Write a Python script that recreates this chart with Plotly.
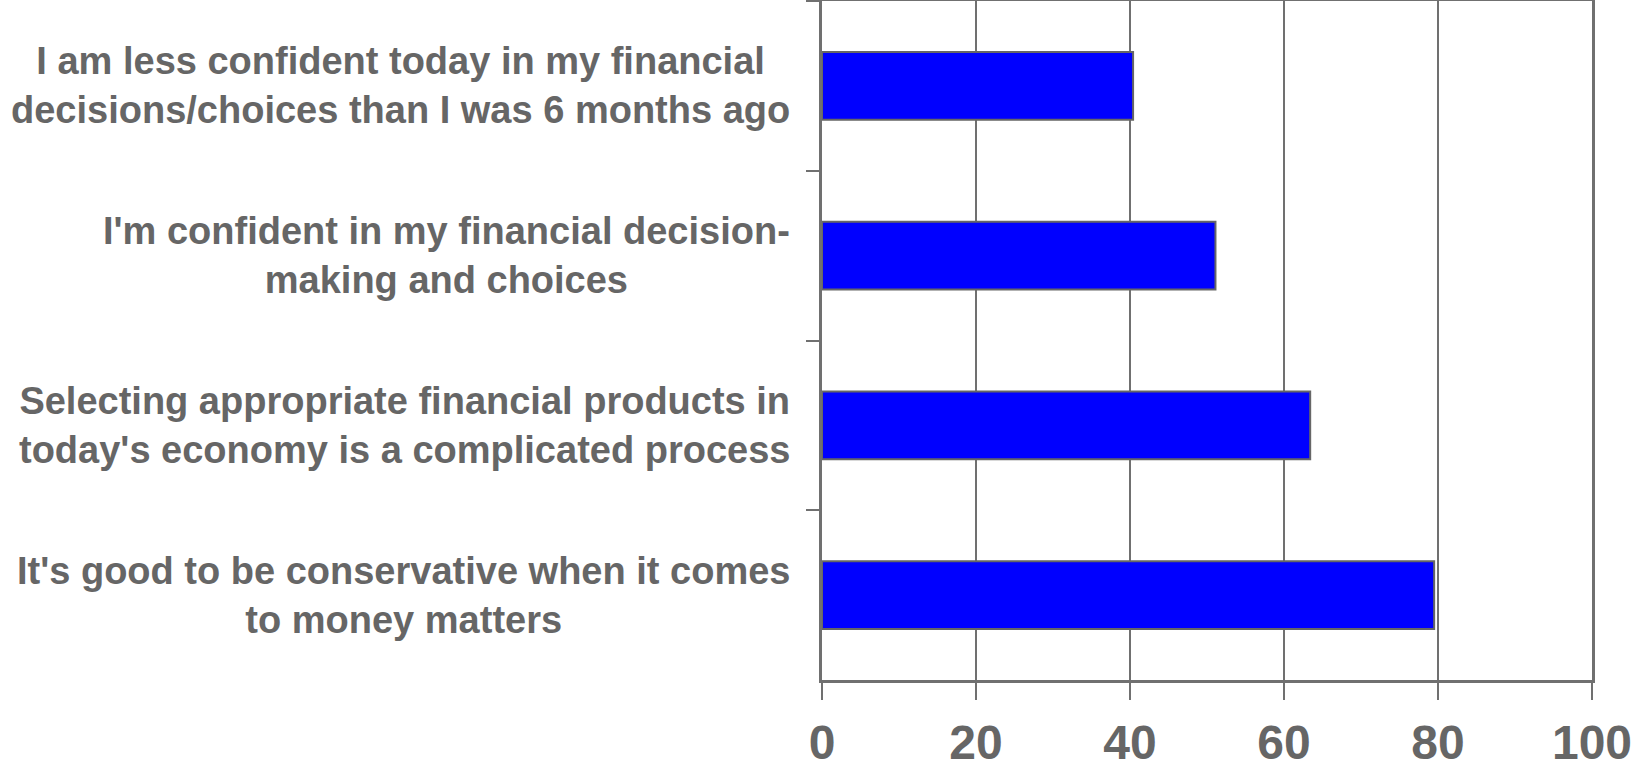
import plotly.graph_objects as go

# Survey statements (listed top to bottom) and share of respondents agreeing (%)
statements = [
    "I am less confident today in my financial<br>decisions/choices than I was 6 months ago",
    "I'm confident in my financial decision-<br>making and choices",
    "Selecting appropriate financial products in<br>today's economy is a complicated process",
    "It's good to be conservative when it comes<br>to money matters",
]
agree_pct = [40.4, 51.1, 63.4, 79.5]
x_ticks = [0, 20, 40, 60, 80, 100]

GRAY = "#666666"
LINE = "#707070"

fig = go.Figure(
    go.Bar(
        x=agree_pct,
        y=statements,
        orientation="h",
        marker=dict(color="#0000FF", line=dict(color=GRAY, width=2)),
        hoverinfo="x",
    )
)

# Statement labels: centred multi-line blocks placed left of the value axis
for s in statements:
    fig.add_annotation(
        x=0, xref="x", y=s, yref="y",
        text=s, showarrow=False,
        xanchor="right", yanchor="middle", align="center", xshift=-30,
        font=dict(family="Liberation Sans, Arial, sans-serif", size=38,
                  color=GRAY, weight="bold"),
    )

fig.update_layout(
    width=1634, height=775,
    margin=dict(l=822, r=42, t=1, b=95, autoexpand=False),
    paper_bgcolor="white", plot_bgcolor="white",
    bargap=0.6,
    showlegend=False,
)

fig.update_xaxes(
    range=[0, 100],
    tickvals=x_ticks,
    ticktext=[str(v) for v in x_ticks],
    showgrid=True, gridcolor=LINE, gridwidth=2,
    zeroline=False,
    showline=True, linecolor=LINE, linewidth=2.5, mirror=True,
    ticks="outside", ticklen=17, tickwidth=2, tickcolor=LINE,
    tickfont=dict(family="Liberation Sans Narrow, Arial Narrow, Liberation Sans, sans-serif",
                  size=48, color=GRAY, weight="bold"),
    ticklabelstandoff=2,
    ticklabeloverflow="allow",
    automargin=False,
)

fig.update_yaxes(
    type="category",
    categoryorder="array", categoryarray=statements,
    range=[3.5, -0.5],
    showticklabels=False,
    showgrid=False, zeroline=False,
    showline=True, linecolor=LINE, linewidth=2.5, mirror=True,
    ticks="outside", tickson="boundaries", ticklen=13, tickwidth=2, tickcolor=LINE,
    automargin=False,
)

fig.write_html("out.html")
